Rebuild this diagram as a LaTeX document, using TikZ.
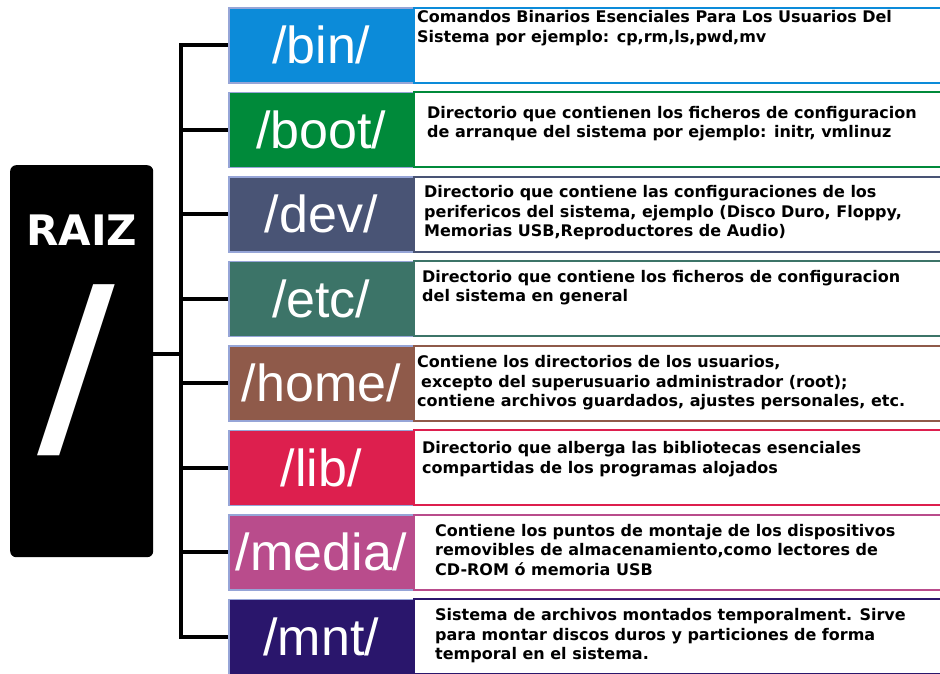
\documentclass[tikz,border=0pt]{standalone}
\usepackage{fontspec}
\setmainfont{DejaVu Sans}
\newfontfamily\dirfont{Liberation Sans}
\usepackage{xcolor}
\usepackage{tikz}
\usetikzlibrary{positioning}

\definecolor{binblue}{RGB}{12,139,217}
\definecolor{bootgreen}{RGB}{0,138,58}
\definecolor{devslate}{RGB}{73,84,117}
\definecolor{etcteal}{RGB}{60,116,104}
\definecolor{homebrown}{RGB}{143,90,74}
\definecolor{libred}{RGB}{221,31,78}
\definecolor{mediapink}{RGB}{185,76,140}
\definecolor{mntpurple}{RGB}{42,22,108}
\definecolor{dirframe}{RGB}{150,165,215}

\begin{document}
\begin{tikzpicture}[x=1pt,y=-1pt]
            % Block styles
            \tikzstyle{dirbox} = [rectangle, draw=dirframe, line width=1.5pt, minimum width=185pt, minimum height=75pt, inner sep=0pt, text=white, font=\dirfont\fontsize{52}{52}\selectfont]
            \tikzstyle{descbox} = [rectangle, draw, fill=white, line width=2pt, minimum width=540pt, minimum height=75pt, inner sep=0pt]
            \tikzstyle{desctext} = [align=left, inner sep=0pt, anchor=west, font=\bfseries\fontsize{16}{19.3}\selectfont]
            \tikzstyle{branch} = [line width=4pt]
            \useasboundingbox (0,0) rectangle (940,673);
            % Root
            \node[rectangle, fill=black, rounded corners=6pt, minimum width=143pt, minimum height=392pt, anchor=north west] (root) at (10,165) {};
            \node[text=white, font=\bfseries\fontsize{42}{42}\selectfont] (raiz) at ([yshift=-65pt]root.north) {RAIZ};
            \node[text=white, xscale=1.2, font=\dirfont\fontsize{233}{233}\selectfont] (slash) at ([xshift=-5pt,yshift=-9pt]root.center) {/};
            % Directories
            \node[dirbox, fill=binblue, anchor=north west] (bin) at (228,7) {/bin/};
            \node[dirbox, fill=bootgreen, below=8pt of bin] (boot) {/boot/};
            \node[dirbox, fill=devslate, below=8pt of boot] (dev) {/dev/};
            \node[dirbox, fill=etcteal, below=8pt of dev] (etc) {/etc/};
            \node[dirbox, fill=homebrown, below=8pt of etc] (home) {/home/};
            \node[dirbox, fill=libred, below=8pt of home] (lib) {/lib/};
            \node[dirbox, fill=mediapink, below=8pt of lib] (media) {/media/};
            \node[dirbox, fill=mntpurple, below=8pt of media] (mnt) {/mnt/};
            % Descriptions
            \node[descbox, draw=binblue, right=-1.5pt of bin] (bindesc) {};
            \node[descbox, draw=bootgreen, right=-1.5pt of boot] (bootdesc) {};
            \node[descbox, draw=devslate, right=-1.5pt of dev] (devdesc) {};
            \node[descbox, draw=etcteal, right=-1.5pt of etc] (etcdesc) {};
            \node[descbox, draw=homebrown, right=-1.5pt of home] (homedesc) {};
            \node[descbox, draw=libred, right=-1.5pt of lib] (libdesc) {};
            \node[descbox, draw=mediapink, right=-1.5pt of media] (mediadesc) {};
            \node[descbox, draw=mntpurple, right=-1.5pt of mnt] (mntdesc) {};
            \node[desctext] (bintext) at ([xshift=4pt,yshift=17pt]bindesc.west) {Comandos Binarios Esenciales Para Los Usuarios Del\\Sistema por ejemplo: cp,rm,ls,pwd,mv};
            \node[desctext] (boottext) at ([xshift=14pt,yshift=6pt]bootdesc.west) {Directorio que contienen los ficheros de configuracion\\de arranque del sistema por ejemplo: initr, vmlinuz};
            \node[desctext] (devtext) at ([xshift=11pt,yshift=1.5pt]devdesc.west) {Directorio que contiene las configuraciones de los\\perifericos del sistema, ejemplo (Disco Duro, Floppy,\\Memorias USB,Reproductores de Audio)};
            \node[desctext] (etctext) at ([xshift=9pt,yshift=11pt]etcdesc.west) {Directorio que contiene los ficheros de configuracion\\del sistema en general};
            \node[desctext] (hometext) at ([xshift=4pt,yshift=0.5pt]homedesc.west) {Contiene los directorios de los usuarios,\\\hspace{4pt}excepto del superusuario administrador (root);\\contiene archivos guardados, ajustes personales, etc.};
            \node[desctext] (libtext) at ([xshift=9pt,yshift=8.5pt]libdesc.west) {Directorio que alberga las bibliotecas esenciales\\compartidas de los programas alojados};
            \node[desctext] (mediatext) at ([xshift=22pt,yshift=2.5pt]mediadesc.west) {Contiene los puntos de montaje de los dispositivos\\removibles de almacenamiento,como lectores de\\CD-ROM ó memoria USB};
            \node[desctext] (mnttext) at ([xshift=22pt,yshift=1pt]mntdesc.west) {Sistema de archivos montados temporalment. Sirve\\para montar discos duros y particiones de forma\\temporal en el sistema.};
            % Connections
            \coordinate (trunk) at (181,354);
            \draw[branch] (root.east |- trunk) -- (trunk);
            \foreach \folder in {bin,boot,dev,etc,home,lib,media,mnt}
                \draw[branch] (trunk) |- (\folder.west);
\end{tikzpicture}
\end{document}
